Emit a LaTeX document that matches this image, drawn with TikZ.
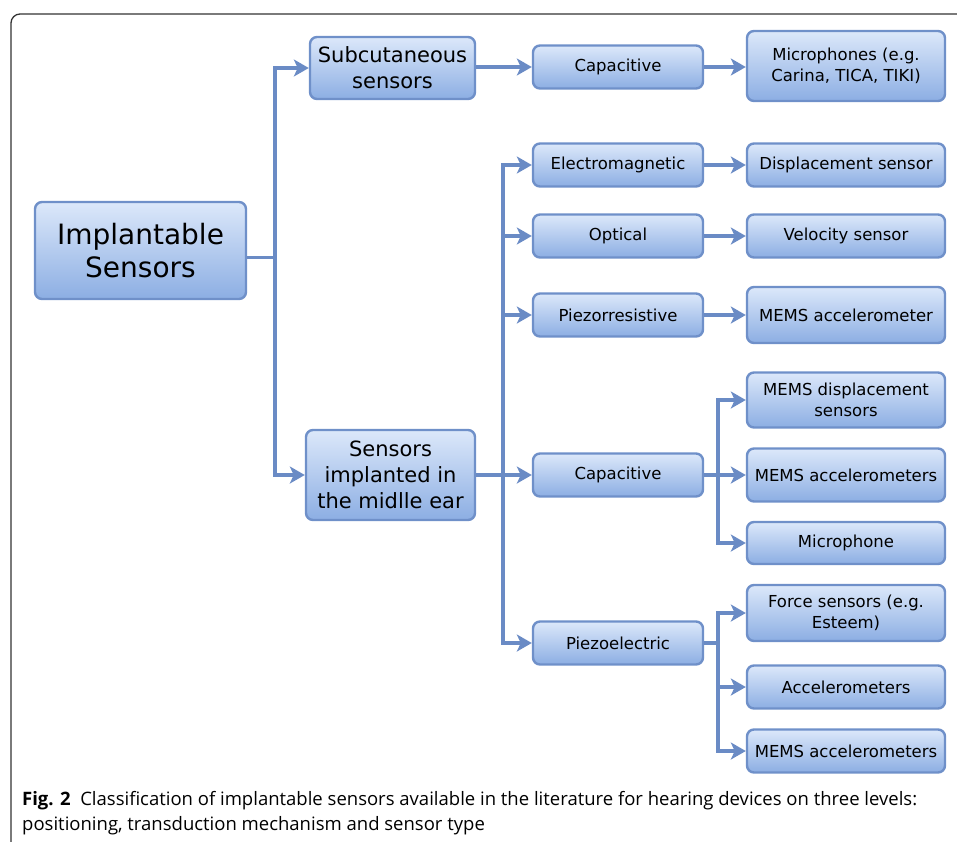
\documentclass[tikz,border=0pt]{standalone}
\usepackage{fontspec}
\setmainfont{DejaVu Sans}
\newfontfamily\capfont{Open Sans}
\usetikzlibrary{arrows.meta,positioning}

\definecolor{boxtop}{HTML}{DCE8FA}
\definecolor{boxbot}{HTML}{8CAEE3}
\definecolor{boxedge}{HTML}{6F90C9}
\definecolor{linkcol}{HTML}{6A8BC5}

\tikzset{
  box/.style={draw=boxedge, line width=2.4pt, rounded corners=7pt,
    top color=boxtop, bottom color=boxbot, align=center, inner sep=2pt,
    font=\fontsize{16.5}{20.5}\selectfont},
  mech/.style={box, minimum width=170pt, minimum height=43pt},
  leaf/.style={box, minimum width=198pt, minimum height=43pt},
  link/.style={draw=linkcol, line width=3.2pt},
  arr/.style={link, -{Stealth[length=15pt,width=17pt,inset=4pt]}},
}

\begin{document}
\begin{tikzpicture}[x=1pt,y=-1pt]
    \useasboundingbox (0,0) rectangle (957,841);
    \draw[black!80, line width=1.3pt, rounded corners=9pt] (958,14) -- (11,14) -- (11,842);

    % levels
    \node[box, minimum width=211pt, minimum height=97pt, font=\fontsize{28}{33}\selectfont] at (140.5,250.5) (root) {Implantable\\Sensors};
    \node[box, minimum width=165pt, minimum height=62pt, font=\fontsize{21}{26}\selectfont] at (392.5,68) (subcut) {Subcutaneous\\sensors};
    \node[box, minimum width=169pt, minimum height=90pt, font=\fontsize{21}{26}\selectfont] at (390.5,475) (midear) {Sensors\\implanted in\\the midlle ear};

    \node[mech] at (618,67) (capsub) {Capacitive};
    \node[mech] at (618,165) (emag) {Electromagnetic};
    \node[mech] at (618,236) (optic) {Optical};
    \node[mech] at (618,315) (piezores) {Piezorresistive};
    \node[mech] at (618,475) (capmid) {Capacitive};
    \node[mech] at (618,643) (piezoel) {Piezoelectric};

    \node[leaf, minimum height=70pt] at (846,66) (mic) {Microphones (e.g.\\Carina, TICA, TIKI)};
    \node[leaf] at (846,165) (disp) {Displacement sensor};
    \node[leaf] at (846,236) (velo) {Velocity sensor};
    \node[leaf, minimum height=56pt] at (846,315) (memsacc) {MEMS accelerometer};
    \node[leaf, minimum height=55pt] at (846,400) (memsdisp) {MEMS displacement\\sensors};
    \node[leaf, minimum height=53pt] at (846,475) (memsaccs) {MEMS accelerometers};
    \node[leaf, minimum height=42pt] at (846,543) (micro) {Microphone};
    \node[leaf, minimum height=56pt] at (846,613) (force) {Force sensors (e.g.\\Esteem)};
    \node[leaf] at (846,687) (accels) {Accelerometers};
    \node[leaf] at (846,751) (memsaccs2) {MEMS accelerometers};

    % trunks
    \coordinate (ta) at (275,0);
    \coordinate (tb) at (503,0);
    \coordinate (tc) at (718,0);
    \coordinate (rootout) at ([yshift=-7pt]root.east);

    \draw[arr] (rootout) -| (ta |- subcut.west) -- (subcut.west);
    \draw[arr] (ta |- rootout) |- (midear.west);

    \draw[arr] (midear.east) -| (tb |- emag.west) -- (emag.west);
    \draw[arr] (tb |- midear.east) |- (piezoel.west);
    \draw[arr] (tb |- optic.west) -- (optic.west);
    \draw[arr] (tb |- piezores.west) -- (piezores.west);
    \draw[arr] (tb |- capmid.west) -- (capmid.west);

    \draw[arr] (capmid.east) -- (memsaccs.west);
    \draw[arr] (tc |- capmid.east) |- (memsdisp.west);
    \draw[arr] (tc |- capmid.east) |- (micro.west);

    \draw[link] (piezoel.east) -- (tc |- piezoel.east);
    \draw[arr] (tc |- piezoel.east) |- (force.west);
    \draw[arr] (tc |- piezoel.east) |- (accels.west);
    \draw[arr] (tc |- piezoel.east) |- (memsaccs2.west);

    \path
    (subcut.east |- capsub) edge[arr] (capsub.west)
    (capsub.east) edge[arr] (mic.west |- capsub)
    (emag.east) edge[arr] (disp.west)
    (optic.east) edge[arr] (velo.west)
    (piezores.east) edge[arr] (memsacc.west);

    \node[anchor=north west, align=left, inner sep=0pt, font=\capfont\fontsize{18.5}{25}\selectfont] at (22,791) (caption)
      {\textbf{Fig. 2}\ \ Classification of implantable sensors available in the literature for hearing devices on three levels:\\
       positioning, transduction mechanism and sensor type};
\end{tikzpicture}
\end{document}
